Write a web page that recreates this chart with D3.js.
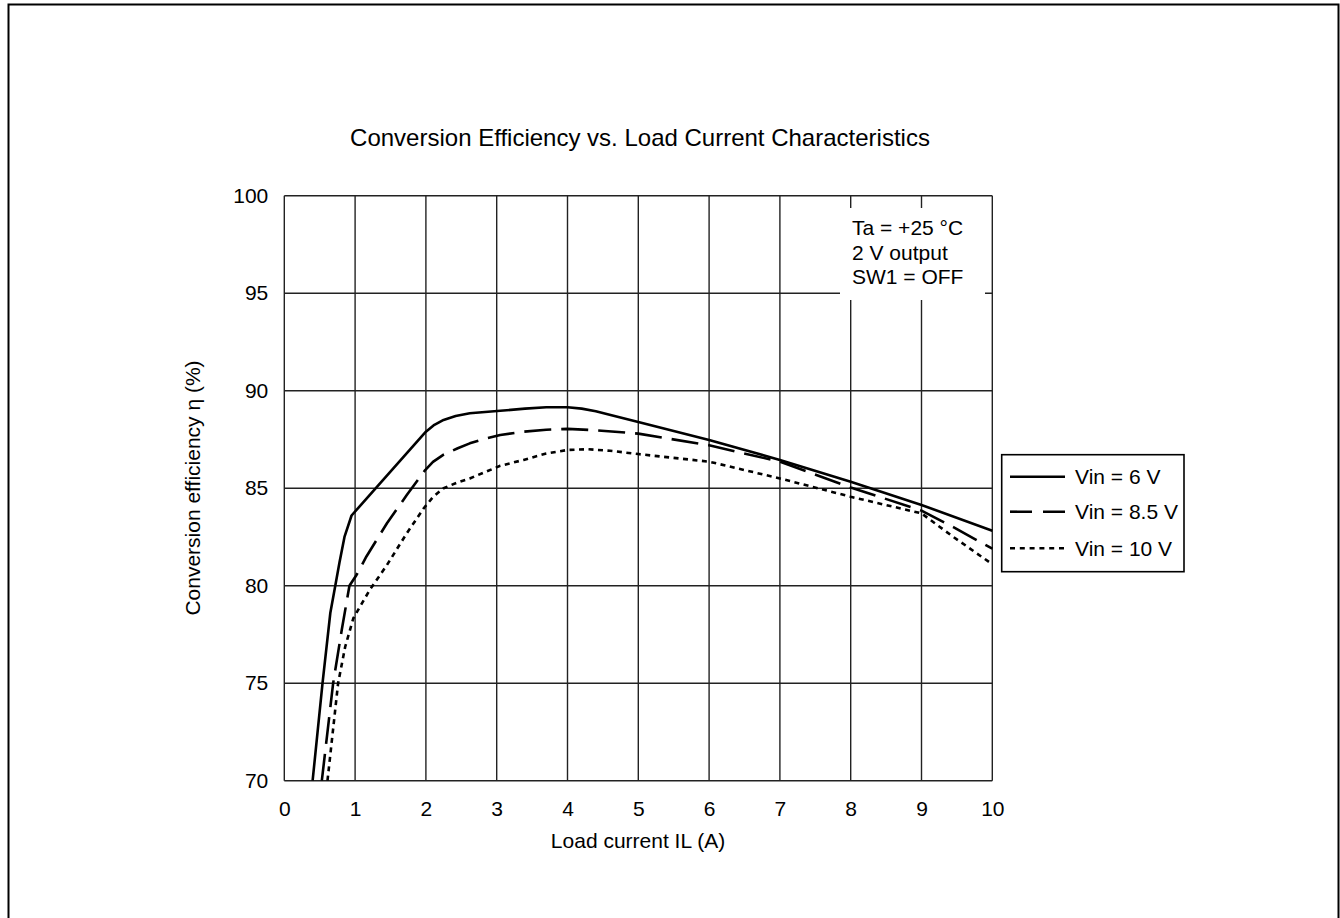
<!DOCTYPE html>
<html>
<head>
<meta charset="utf-8">
<script src="https://cdn.jsdelivr.net/npm/d3@7/dist/d3.min.js"></script>
<style>
  html, body { margin: 0; padding: 0; background: #fff; }
  svg text { font-family: "Liberation Sans", Arial, Helvetica, sans-serif; fill: #000; }
</style>
</head>
<body>
<svg id="chart" width="1340" height="918"></svg>
<script>
// ---- data ----
const xTicks = [0, 1, 2, 3, 4, 5, 6, 7, 8, 9, 10];
const yTicks = [70, 75, 80, 85, 90, 95, 100];

const seriesNames = ["Vin = 6 V", "Vin = 8.5 V", "Vin = 10 V"];

const vin6 = [
  [0.40, 70.0], [0.54, 75.0], [0.65, 78.6], [0.72, 80.0], [0.78, 81.2],
  [0.85, 82.5], [0.95, 83.6], [2.00, 87.9], [2.12, 88.25], [2.25, 88.5],
  [2.42, 88.7], [2.62, 88.84], [3.05, 88.97], [3.4, 89.08], [3.7, 89.15],
  [4.00, 89.15], [4.2, 89.08], [4.4, 88.95], [4.65, 88.72], [5.00, 88.4],
  [6.00, 87.47], [7.00, 86.45], [8.00, 85.33], [9.00, 84.14], [10.0, 82.82]
];
const vin85 = [
  [0.53, 70.0], [0.69, 75.0], [0.81, 77.7], [0.92, 80.0], [1.02, 80.55],
  [1.16, 81.5], [1.45, 83.2], [1.73, 84.65], [1.99, 85.93], [2.1, 86.35],
  [2.25, 86.72], [2.45, 87.05], [2.62, 87.3], [2.85, 87.55], [3.05, 87.73],
  [3.38, 87.9], [3.7, 88.0], [4.00, 88.04], [4.4, 87.97], [5.00, 87.8],
  [6.00, 87.2], [7.00, 86.36], [8.00, 85.04], [9.00, 83.85], [9.45, 83.0],
  [10.0, 81.9]
];
const vin10 = [
  [0.61, 70.0], [0.76, 75.0], [0.86, 76.87], [0.975, 78.33], [1.07, 78.93],
  [1.21, 79.8], [1.45, 81.06], [1.73, 82.69], [1.97, 83.97], [2.1, 84.55],
  [2.25, 85.0], [2.45, 85.3], [2.62, 85.5], [2.85, 85.85], [3.05, 86.15],
  [3.38, 86.45], [3.7, 86.78], [4.00, 86.96], [4.28, 87.0], [4.6, 86.92],
  [5.00, 86.75], [6.00, 86.36], [7.00, 85.5], [8.00, 84.56], [9.00, 83.71],
  [9.45, 82.5], [10.0, 81.1]
];

const noteLines = ["Ta = +25 °C", "2 V output", "SW1 = OFF"];
const titleText = "Conversion Efficiency vs. Load Current Characteristics";
const xTitle = "Load current IL (A)";
const yTitle = "Conversion efficiency η (%)";

// ---- drawing ----
const svg = d3.select("#chart");
const FS = 21;

// outer frame (extends past the bottom edge)
svg.append("rect")
  .attr("x", 8.5).attr("y", 4.5).attr("width", 1330).attr("height", 1000)
  .attr("fill", "none").attr("stroke", "#000").attr("stroke-width", 2);

const x = d3.scaleLinear().domain([0, 10]).range([284.3, 992.3]);
const y = d3.scaleLinear().domain([70, 100]).range([780.7, 195.7]);

const g = svg.append("g");

// grid
g.selectAll("line.vg").data(xTicks).join("line")
  .attr("x1", d => x(d)).attr("x2", d => x(d))
  .attr("y1", y(100)).attr("y2", y(70))
  .attr("stroke", "#222").attr("stroke-width", 1.4);
g.selectAll("line.hg").data(yTicks).join("line")
  .attr("y1", d => y(d)).attr("y2", d => y(d))
  .attr("x1", x(0)).attr("x2", x(10))
  .attr("stroke", "#222").attr("stroke-width", 1.4);

// axes labels via d3 axes (no tick lines)
const xAxis = d3.axisBottom(x).tickValues(xTicks).tickSize(0).tickPadding(20).tickFormat(d3.format("d"));
const yAxis = d3.axisLeft(y).tickValues(yTicks).tickSize(0).tickPadding(16).tickFormat(d3.format("d"));
const gx = svg.append("g").attr("transform", `translate(0,${y(70)})`).call(xAxis);
const gy = svg.append("g").attr("transform", `translate(${x(0)},0)`).call(yAxis);
[gx, gy].forEach(a => {
  a.select(".domain").remove();
  a.selectAll("text").attr("font-size", FS).attr("font-family", "Liberation Sans, Arial, sans-serif").attr("fill", "#000");
});

// white annotation box
svg.append("rect").attr("x", 840).attr("y", 208).attr("width", 145).attr("height", 92).attr("fill", "#fff");
svg.append("g").selectAll("text").data(noteLines).join("text")
  .attr("x", 852).attr("y", (d, i) => 228 + i * 24.5).attr("dy", "0.35em")
  .attr("font-size", FS).text(d => d);

// curves
const line = d3.line().x(d => x(d[0])).y(d => y(d[1])).curve(d3.curveLinear);
const series = [
  { data: vin6, dash: null },
  { data: vin85, dash: "27,10" },
  { data: vin10, dash: "5,4.5" }
];
const legendDash = [null, "22,11", "5,4.8"];

svg.append("g").selectAll("path").data(series).join("path")
  .attr("d", d => line(d.data))
  .attr("fill", "none").attr("stroke", "#000").attr("stroke-width", 2.6)
  .attr("stroke-linejoin", "round")
  .attr("stroke-dasharray", d => d.dash);

// legend
const lg = svg.append("g");
lg.append("rect").attr("x", 1001.7).attr("y", 454.7).attr("width", 182.3).attr("height", 117)
  .attr("fill", "#fff").attr("stroke", "#000").attr("stroke-width", 1.6);
const rows = [476.7, 511.7, 548.3];
seriesNames.forEach((name, i) => {
  lg.append("line").attr("x1", 1010).attr("x2", 1065).attr("y1", rows[i]).attr("y2", rows[i])
    .attr("stroke", "#000").attr("stroke-width", 2.6).attr("stroke-dasharray", legendDash[i]);
  lg.append("text").attr("x", 1075).attr("y", rows[i]).attr("dy", "0.35em")
    .attr("font-size", FS).text(name);
});

// titles
svg.append("text").attr("x", 640).attr("y", 138).attr("dy", "0.35em").attr("text-anchor", "middle")
  .attr("font-size", 24).text(titleText);
svg.append("text").attr("x", 638).attr("y", 841).attr("dy", "0.35em").attr("text-anchor", "middle")
  .attr("font-size", FS).text(xTitle);
svg.append("text").attr("transform", "translate(193,488) rotate(-90)").attr("dy", "0.35em")
  .attr("text-anchor", "middle").attr("font-size", FS).text(yTitle);
</script>
</body>
</html>
